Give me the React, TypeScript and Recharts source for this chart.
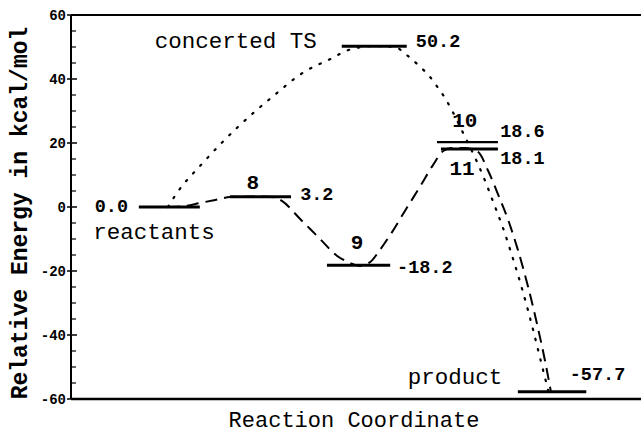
import React from 'react';
import { ComposedChart, Line, XAxis, YAxis, Scatter, Label } from 'recharts';

// Energy levels (reaction coordinate is arbitrary 0-100)
const levelNames = ['reactants', '8', 'concerted TS', '9', '10', '11', 'product'];
// level heights as drawn in the figure (10 is drawn slightly above 11)
const levelEnergies = [0.0, 3.2, 50.2, -18.2, 20.3, 18.1, -57.7];
const levelStart = [11.9, 27.9, 47.5, 44.9, 64.2, 64.9, 78.4];
const levelEnd = [22.6, 38.6, 58.9, 56.0, 74.9, 74.9, 90.4];

// Stepwise pathway (dashed)
const stepwiseX = [17.0, 20.0, 22.6, 25.3, 27.9, 33.2, 35.8, 37.0, 40.2, 43.7, 46.7, 49.0, 50.7, 52.5, 54.2, 56.0, 58.9, 61.2, 63.5, 65.3, 66.8, 69.1, 71.4, 73.2, 74.9, 76.7, 78.4, 80.2, 81.8, 83.2, 84.2];
const stepwiseY = [0.0, 0.3, 1.25, 2.2, 3.1, 3.3, 2.97, 1.9, -3.75, -10.0, -15.3, -17.5, -18.4, -17.2, -13.4, -8.75, -0.3, 6.25, 13.1, 17.5, 18.4, 18.4, 17.2, 11.25, 4.06, -4.06, -13.4, -25.0, -36.9, -48.4, -57.8];

// Concerted pathway (dotted)
const concertedX = [17.0, 18.2, 23.3, 29.1, 35.3, 40.9, 45.1, 49.3, 53.3, 56.8, 58.9, 60.9, 63.0, 64.4, 65.6, 66.8, 68.8, 70.5, 72.3, 74.0, 75.8, 77.5, 79.3, 80.9, 82.3, 83.7];
const concertedY = [0.0, 3.4, 14.1, 24.7, 34.4, 42.2, 45.9, 49.4, 50.3, 50.0, 47.5, 44.4, 40.6, 37.2, 34.1, 30.3, 23.1, 16.9, 9.7, 1.9, -6.6, -15.9, -26.6, -37.2, -47.2, -57.2];

// Axis ticks
const yTicks = [-60, -55, -50, -45, -40, -35, -30, -25, -20, -15, -10, -5, 0, 5, 10, 15, 20, 25, 30, 35, 40, 45, 50, 55, 60];
const yMajorTicks = [-60, -40, -20, 0, 20, 40, 60];
const rightTicks = [-40, -20, 0, 20, 40];

// Annotations (anchored in data coordinates)
const valueLabels = [
  { x: 10.0, y: 0.0, text: '0.0', anchor: 'end' },
  { x: 40.2, y: 3.6, text: '3.2', anchor: 'start' },
  { x: 60.5, y: 51.3, text: '50.2', anchor: 'start' },
  { x: 75.3, y: 23.4, text: '18.6', anchor: 'start' },
  { x: 75.3, y: 14.7, text: '18.1', anchor: 'start' },
  { x: 57.2, y: -19.1, text: '-18.2', anchor: 'start' },
  { x: 87.5, y: -52.5, text: '-57.7', anchor: 'start' },
];
const nameLabels = [
  { x: 3.9, y: -8.1, text: 'reactants' },
  { x: 14.7, y: 51.6, text: 'concerted TS' },
  { x: 59.1, y: -53.4, text: 'product' },
];
const speciesLabels = [
  { x: 31.9, y: 7.5, text: '8' },
  { x: 50.2, y: -11.3, text: '9' },
  { x: 69.1, y: 26.6, text: '10' },
  { x: 68.6, y: 11.6, text: '11' },
];

const MONO = '"Liberation Mono", "DejaVu Sans Mono", monospace';

const stepwiseData = stepwiseX.map((x, i) => ({ x, y: stepwiseY[i] }));
const concertedData = concertedX.map((x, i) => ({ x, y: concertedY[i] }));
const levelData = levelNames.map((name, i) => ({
  name,
  points: [
    { x: levelStart[i], y: levelEnergies[i] },
    { x: levelEnd[i], y: levelEnergies[i] },
  ],
}));

const textShape = (size: number, weight: string, defaultAnchor: string) => (props: any) => {
  const { cx, cy, payload } = props;
  return (
    <text
      x={cx}
      y={cy}
      textAnchor={payload.anchor || defaultAnchor}
      dominantBaseline="central"
      fontFamily={MONO}
      fontSize={size}
      fontWeight={weight}
      fill="#000"
    >
      {payload.text}
    </text>
  );
};

const LeftTick = (props: any) => {
  const { x, y, payload } = props;
  const v = payload.value;
  const major = yMajorTicks.includes(v);
  return (
    <g>
      {major ? (
        <line x1={x - 4} x2={x + 6} y1={y} y2={y} stroke="#000" strokeWidth={1.5} />
      ) : (
        <line x1={x} x2={x + 5} y1={y} y2={y} stroke="#000" strokeWidth={1.2} />
      )}
      {major && (
        <text x={x - 5} y={y + 1} textAnchor="end" dominantBaseline="central" fontFamily={MONO} fontSize={14} fontWeight="bold" fill="#000">
          {v}
        </text>
      )}
    </g>
  );
};

const RightTick = (props: any) => {
  const { x, y } = props;
  return <line x1={x - 5} x2={x} y1={y} y2={y} stroke="#000" strokeWidth={1.5} />;
};

export default function App() {
  return (
    <div style={{ position: 'absolute', left: 0, top: 0, background: '#fff' }}>
      <ComposedChart width={641} height={435} margin={{ top: 14, right: 0, bottom: 35, left: 0 }}>
        <XAxis
          xAxisId="b"
          type="number"
          dataKey="x"
          domain={[0, 100]}
          allowDataOverflow
          height={1}
          tick={false}
          tickLine={false}
          axisLine={{ stroke: '#000', strokeWidth: 2.5 }}
        >
          <Label
            content={() => (
              <text x={354} y={421} textAnchor="middle" dominantBaseline="central" fontFamily={MONO} fontSize={22} fill="#000">
                Reaction Coordinate
              </text>
            )}
          />
        </XAxis>
        <XAxis
          xAxisId="t"
          orientation="top"
          type="number"
          dataKey="x"
          domain={[0, 100]}
          height={1}
          tick={false}
          tickLine={false}
          axisLine={{ stroke: '#000', strokeWidth: 2 }}
        />
        <YAxis
          yAxisId="l"
          type="number"
          dataKey="y"
          domain={[-60, 60]}
          ticks={yTicks}
          interval={0}
          width={71}
          tickSize={0}
          tickMargin={0}
          tickLine={false}
          tick={<LeftTick />}
          axisLine={{ stroke: '#000', strokeWidth: 2 }}
        >
          <Label
            content={() => (
              <text
                x={21}
                y={213}
                transform="rotate(-90 21 213)"
                textAnchor="middle"
                dominantBaseline="central"
                fontFamily={MONO}
                fontSize={23}
                fontWeight="bold"
                fill="#000"
              >
                Relative Energy in kcal/mol
              </text>
            )}
          />
        </YAxis>
        <YAxis
          yAxisId="r"
          orientation="right"
          type="number"
          dataKey="y"
          domain={[-60, 60]}
          ticks={rightTicks}
          interval={0}
          width={0}
          tickSize={0}
          tickMargin={0}
          tickLine={false}
          tick={<RightTick />}
          axisLine={false}
        />

        <Line
          xAxisId="b"
          yAxisId="l"
          data={concertedData}
          dataKey="y"
          type="monotone"
          stroke="#000"
          strokeWidth={2.2}
          strokeDasharray="1.5 9"
          strokeLinecap="round"
          dot={false}
          activeDot={false}
          isAnimationActive={false}
        />
        <Line
          xAxisId="b"
          yAxisId="l"
          data={stepwiseData}
          dataKey="y"
          type="monotone"
          stroke="#000"
          strokeWidth={2}
          strokeDasharray="12 7"
          dot={false}
          activeDot={false}
          isAnimationActive={false}
        />
        {levelData.map((lv) => (
          <Line
            key={lv.name}
            xAxisId="b"
            yAxisId="l"
            data={lv.points}
            dataKey="y"
            type="linear"
            stroke="#000"
            strokeWidth={lv.name === '10' ? 2.2 : 3}
            dot={false}
            activeDot={false}
            isAnimationActive={false}
          />
        ))}
        <Scatter xAxisId="b" yAxisId="l" data={valueLabels} dataKey="y" shape={textShape(18.5, 'bold', 'start')} isAnimationActive={false} />
        <Scatter xAxisId="b" yAxisId="l" data={nameLabels} dataKey="y" shape={textShape(22.5, 'normal', 'start')} isAnimationActive={false} />
        <Scatter xAxisId="b" yAxisId="l" data={speciesLabels} dataKey="y" shape={textShape(21, 'bold', 'middle')} isAnimationActive={false} />
      </ComposedChart>
    </div>
  );
}
